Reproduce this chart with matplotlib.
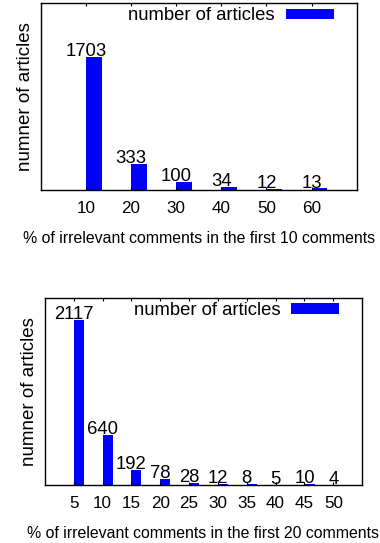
import numpy as np
import matplotlib
matplotlib.use("Agg")
import matplotlib.pyplot as plt

plt.rcParams['font.family'] = ['Liberation Sans', 'DejaVu Sans']

# share of irrelevant comments among the first 10 comments
pct10 = ["10", "20", "30", "40", "50", "60"]
articles10 = [1703, 333, 100, 34, 12, 13]

# share of irrelevant comments among the first 20 comments
pct20 = ["5", "10", "15", "20", "25", "30", "35", "40", "45", "50"]
articles20 = [2117, 640, 192, 78, 28, 12, 8, 5, 10, 4]

fig = plt.figure(figsize=(3.8, 5.43), dpi=100)


def hist(ax, labels, values, xlab, xmax):
    x = np.arange(len(labels))
    ax.bar(x, values, width=0.35, align='edge', color='#0000ff',
           label='number of articles')
    for xi, v in zip(x, values):
        ax.text(xi, v + 12, str(v), ha='center', va='baseline', fontsize=13.3)
    ax.set_xlim(-1, xmax)
    ax.set_ylim(0, 2400)
    ax.set_xticks(x)
    ax.set_xticklabels(labels, fontsize=12.3)
    ax.set_yticks([])
    ax.tick_params(axis='x', direction='in', length=2, width=0.8,
                   top=True, bottom=True, pad=8)
    for s in ax.spines.values():
        s.set_linewidth(1.0)
    ax.set_xlabel(xlab, fontsize=11.4, labelpad=11)
    ax.set_ylabel("numner of articles", fontsize=13.5, labelpad=5)
    ax.legend(loc='center right', bbox_to_anchor=(0.928, 0.932),
              frameon=False, fontsize=13.3, markerfirst=False,
              handlelength=2.6, handleheight=0.5, handletextpad=0.6,
              borderpad=0, borderaxespad=0)


ax1 = fig.add_axes([0.107, 0.651, 0.832, 0.343])
hist(ax1, pct10, articles10,
     "% of irrelevant comments in the first 10 comments", 6)

ax2 = fig.add_axes([0.118, 0.107, 0.835, 0.344])
hist(ax2, pct20, articles20,
     "% of irrelevant comments in the first 20 comments", 10)

fig.savefig("out.png", dpi=100)
